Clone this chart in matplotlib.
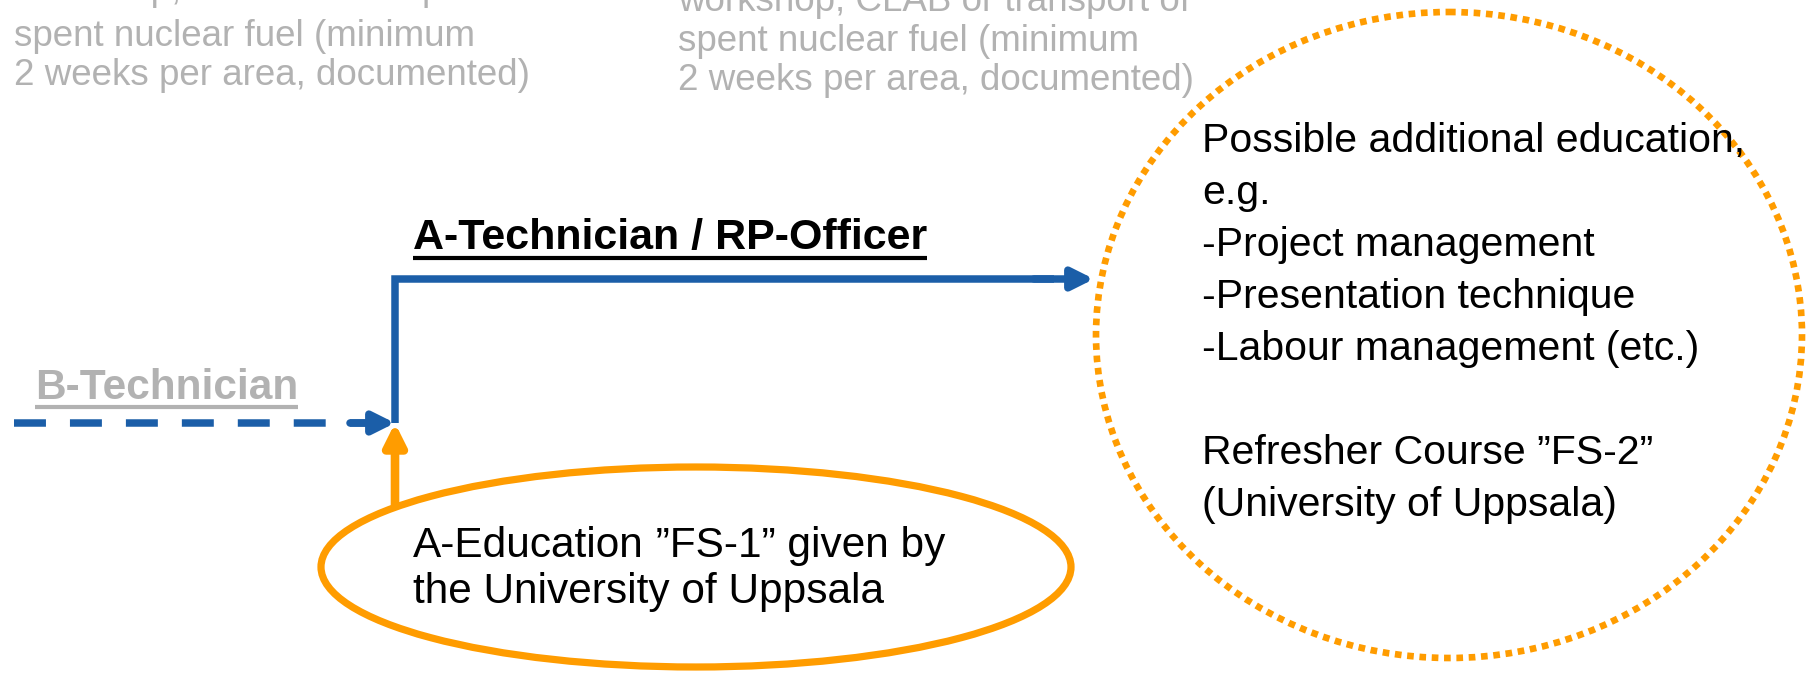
import matplotlib.pyplot as plt
from matplotlib.patches import Ellipse

W, H = 1809, 673

# colours
blue = '#1b5ea8'
orange = '#ff9c00'
grey = '#b2b2b2'

# text content
top_left_lines = ['workshop, CLAB or transport of',
                  'spent nuclear fuel (minimum',
                  '2 weeks per area, documented)']
top_right_lines = ['workshop, CLAB or transport of',
                   'spent nuclear fuel (minimum',
                   '2 weeks per area, documented)']
b_label = 'B-Technician'
a_label = 'A-Technician / RP-Officer'
edu_word = 'A-Education'
edu_rest = ' \u201dFS-1\u201d given by'
edu_line2 = 'the University of Uppsala'
circle_lines = ['Possible additional education,',
                'e.g.',
                '-Project management',
                '-Presentation technique',
                '-Labour management (etc.)',
                '',
                'Refresher Course \u201dFS-2\u201d',
                '(University of Uppsala)']

# layout (pixel coordinates, y downwards, text y = baseline)
top_left_x, top_left_base = 14, [0, 46, 85]
top_right_x, top_right_base = 678, [11, 51, 90]
b_label_xy = (35, 399)
a_label_xy = (413, 249)
junction = (395, 423)
dash_start_x = 14
corner_y = 279
arrow_end_x = 1094
orange_start_y = 505
ell_center, ell_w, ell_h = (696, 567), 750, 200
edu_xy = (413, 557)
edu_step = 46
circ_center, circ_w, circ_h = (1449, 335), 706, 646
circle_text_x, circle_base0, circle_step = 1202, 152, 52

regular = ['Liberation Sans', 'DejaVu Sans']

fig = plt.figure(figsize=(W / 100, H / 100), dpi=100)
ax = fig.add_axes([0, 0, 1, 1])
ax.set_xlim(0, W)
ax.set_ylim(H, 0)
ax.axis('off')

def underline(t, y, color, lw=3):
    fig.canvas.draw()
    bb = t.get_window_extent()
    ax.plot([bb.x0, bb.x1], [y, y], color=color, lw=lw, solid_capstyle='butt')

# grey text blocks at the top
for x0, bases, lines in [(top_left_x, top_left_base, top_left_lines),
                         (top_right_x, top_right_base, top_right_lines)]:
    for yb, line in zip(bases, lines):
        ax.text(x0, yb, line, color=grey, fontsize=26.5, family=regular,
                va='baseline')

# B-Technician
t = ax.text(*b_label_xy, b_label, color=grey, fontsize=30.5, family=regular,
            fontweight='bold', va='baseline')
underline(t, b_label_xy[1] + 8, grey)

# A-Technician title
t = ax.text(*a_label_xy, a_label, color='black', fontsize=31, family=regular,
            fontweight='bold', va='baseline')
underline(t, a_label_xy[1] + 9, 'black')

# dashed blue line into the junction
lw_arrow = 5.4
ax.plot([dash_start_x, junction[0] - 15], [junction[1], junction[1]], color=blue,
        lw=lw_arrow, linestyle=(0, (4.26, 3.2)), dash_capstyle='butt')
ax.annotate('', xy=junction, xytext=(junction[0] - 45, junction[1]),
            arrowprops=dict(arrowstyle='-|>', color=blue, lw=lw_arrow,
                            mutation_scale=32, shrinkA=0, shrinkB=0))

# blue solid path up and right
ax.plot([junction[0], junction[0], arrow_end_x - 40],
        [junction[1], corner_y, corner_y], color=blue, lw=lw_arrow,
        solid_capstyle='butt', solid_joinstyle='miter')
ax.annotate('', xy=(arrow_end_x, corner_y), xytext=(arrow_end_x - 60, corner_y),
            arrowprops=dict(arrowstyle='-|>', color=blue, lw=lw_arrow,
                            mutation_scale=32, shrinkA=0, shrinkB=0))

# orange arrow from the education ellipse
ax.annotate('', xy=junction, xytext=(junction[0], orange_start_y),
            arrowprops=dict(arrowstyle='-|>', color=orange, lw=6.2,
                            mutation_scale=32, shrinkA=0, shrinkB=0))

ax.add_patch(Ellipse(ell_center, ell_w, ell_h, fill=True, facecolor='white',
                     edgecolor=orange, lw=5.2, zorder=3))

t = ax.text(*edu_xy, edu_word, color='black', fontsize=30.5, family=regular,
            va='baseline', zorder=4)
underline(t, edu_xy[1] + 8, 'black')
fig.canvas.draw()
bb = t.get_window_extent()
ax.text(bb.x1, edu_xy[1], edu_rest, color='black', fontsize=30.5, family=regular,
        va='baseline', zorder=4)
ax.text(edu_xy[0], edu_xy[1] + edu_step, edu_line2, color='black', fontsize=30.5,
        family=regular, va='baseline', zorder=4)

# dotted orange circle
ax.add_patch(Ellipse(circ_center, circ_w, circ_h, fill=False, edgecolor=orange,
                     lw=4.8, linestyle=(0, (1, 0.85)), capstyle='butt', zorder=2))

for i, line in enumerate(circle_lines):
    ax.text(circle_text_x, circle_base0 + i * circle_step, line,
            color='black', fontsize=29.5, family=regular, va='baseline', zorder=4)

fig.savefig('out.png', dpi=100)
